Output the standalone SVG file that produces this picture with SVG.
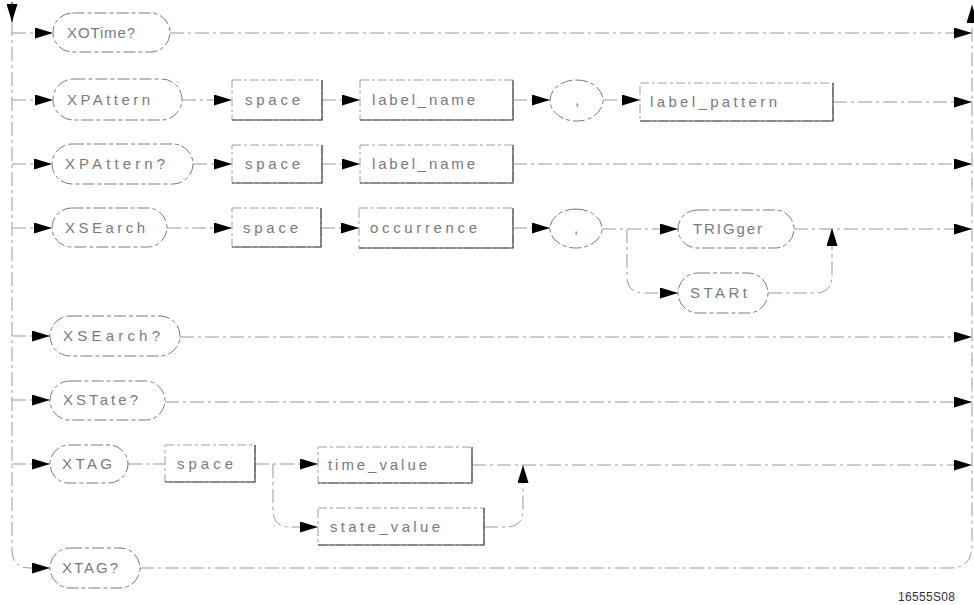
<svg xmlns="http://www.w3.org/2000/svg" width="974" height="605" viewBox="0 0 974 605">
<style>
.t{font-family:"Liberation Sans","DejaVu Sans",sans-serif;font-size:15px;fill:#7a7a7a}
.term{fill:#fff;stroke:#7a7a7a;stroke-width:1;stroke-dasharray:12 3 4 3}
.box{fill:#fff;stroke:#a0a0a0;stroke-width:1;stroke-dasharray:9 3 3 3}
.edge{fill:none;stroke:#444;stroke-width:1.2}
.c{fill:none;stroke:#999;stroke-width:1;stroke-dasharray:14 4 3 4}
.id{font-family:"Liberation Sans","DejaVu Sans",sans-serif;font-size:12px;fill:#333}
</style>
<defs>
<marker id="ah" viewBox="0 0 18 11" refX="18" refY="5.5" markerWidth="18" markerHeight="11" orient="auto" markerUnits="userSpaceOnUse">
<path d="M0,0 L18,5.5 L0,11 Z" fill="#000"/>
</marker>
</defs>
<rect width="974" height="605" fill="#fff"/>

<g id="connectors">
<path class="c" d="M12,22 V550 Q12,568 30,568 H50" marker-end="url(#ah)"/>
<path d="M12,2 V22" stroke="#000" stroke-width="1" marker-end="url(#ah)"/>
<path class="c" d="M140,568 H950 Q972,568 972,546 V5" marker-end="url(#ah)"/>
<path class="c" d="M12,33 H53" marker-end="url(#ah)"/>
<path class="c" d="M170,33 H972" marker-end="url(#ah)"/>
<path class="c" d="M12,100 H53" marker-end="url(#ah)"/>
<path class="c" d="M182,100 H232" marker-end="url(#ah)"/>
<path class="c" d="M322,100 H360" marker-end="url(#ah)"/>
<path class="c" d="M513,100 H550" marker-end="url(#ah)"/>
<path class="c" d="M603,100 H640" marker-end="url(#ah)"/>
<path class="c" d="M833,102 H972" marker-end="url(#ah)"/>
<path class="c" d="M12,164 H52" marker-end="url(#ah)"/>
<path class="c" d="M193,164 H232" marker-end="url(#ah)"/>
<path class="c" d="M322,164 H360" marker-end="url(#ah)"/>
<path class="c" d="M513,164 H972" marker-end="url(#ah)"/>
<path class="c" d="M12,228 H52" marker-end="url(#ah)"/>
<path class="c" d="M167,228 H232" marker-end="url(#ah)"/>
<path class="c" d="M321,228 H359" marker-end="url(#ah)"/>
<path class="c" d="M513,228 H550" marker-end="url(#ah)"/>
<path class="c" d="M602,229 H678" marker-end="url(#ah)"/>
<path class="c" d="M627,229 V276 Q627,293 644,293 H678" marker-end="url(#ah)"/>
<path class="c" d="M794,229 H972" marker-end="url(#ah)"/>
<path class="c" d="M768,293 H815 Q832,293 832,276 V228" marker-end="url(#ah)"/>
<path class="c" d="M12,336 H50" marker-end="url(#ah)"/>
<path class="c" d="M180,337 H972" marker-end="url(#ah)"/>
<path class="c" d="M12,400 H50" marker-end="url(#ah)"/>
<path class="c" d="M165,402 H972" marker-end="url(#ah)"/>
<path class="c" d="M12,464 H50" marker-end="url(#ah)"/>
<path class="c" d="M128,464 H165"/>
<path class="c" d="M255,464 H318" marker-end="url(#ah)"/>
<path class="c" d="M273,464 V510 Q273,527 290,527 H318" marker-end="url(#ah)"/>
<path class="c" d="M472,465 H972" marker-end="url(#ah)"/>
<path class="c" d="M484,527 H506 Q523,527 523,510 V465" marker-end="url(#ah)"/>
</g>

<g id="n-xotime"><rect class="term" x="53" y="13" width="117" height="39" rx="19.5"/><text class="t" x="67" y="38" textLength="68" lengthAdjust="spacing">XOTime?</text></g>
<g id="n-xpattern"><rect class="term" x="53" y="79" width="129" height="41" rx="20.5"/><text class="t" x="67" y="105" textLength="83" lengthAdjust="spacing">XPAttern</text></g>
<g id="n-xpattern-q"><rect class="term" x="52" y="144" width="141" height="40" rx="20"/><text class="t" x="65" y="169" textLength="100" lengthAdjust="spacing">XPAttern?</text></g>
<g id="n-xsearch"><rect class="term" x="52" y="208" width="115" height="39" rx="19.5"/><text class="t" x="65" y="233" textLength="80" lengthAdjust="spacing">XSEarch</text></g>
<g id="n-xsearch-q"><rect class="term" x="50" y="316" width="130" height="40" rx="20"/><text class="t" x="63" y="341" textLength="97" lengthAdjust="spacing">XSEarch?</text></g>
<g id="n-xstate-q"><rect class="term" x="50" y="381" width="115" height="39" rx="19.5"/><text class="t" x="63" y="405" textLength="75" lengthAdjust="spacing">XSTate?</text></g>
<g id="n-xtag"><rect class="term" x="50" y="445" width="78" height="38" rx="19"/><text class="t" x="62" y="469" textLength="50" lengthAdjust="spacing">XTAG</text></g>
<g id="n-xtag-q"><rect class="term" x="50" y="548" width="90" height="40" rx="20"/><text class="t" x="62" y="573" textLength="56" lengthAdjust="spacing">XTAG?</text></g>

<g id="n-space1"><rect class="box" x="232" y="80" width="90" height="40"/><path class="edge" d="M322,80 V120 H232"/><text class="t" x="245" y="105" textLength="55" lengthAdjust="spacing">space</text></g>
<g id="n-labelname1"><rect class="box" x="360" y="80" width="153" height="40"/><path class="edge" d="M513,80 V120 H360"/><text class="t" x="372" y="105" textLength="103" lengthAdjust="spacing">label_name</text></g>
<g id="n-comma1"><rect class="term" x="550" y="80" width="53" height="41" rx="26" ry="20.5"/><text class="t" x="575" y="105">,</text></g>
<g id="n-labelpattern"><rect class="box" x="640" y="83" width="193" height="38"/><path class="edge" d="M833,83 V121 H640"/><text class="t" x="650" y="107" textLength="127" lengthAdjust="spacing">label_pattern</text></g>

<g id="n-space2"><rect class="box" x="232" y="145" width="90" height="38"/><path class="edge" d="M322,145 V183 H232"/><text class="t" x="245" y="169" textLength="55" lengthAdjust="spacing">space</text></g>
<g id="n-labelname2"><rect class="box" x="360" y="145" width="153" height="38"/><path class="edge" d="M513,145 V183 H360"/><text class="t" x="372" y="169" textLength="103" lengthAdjust="spacing">label_name</text></g>

<g id="n-space3"><rect class="box" x="232" y="208" width="89" height="39"/><path class="edge" d="M321,208 V247 H232"/><text class="t" x="243" y="233" textLength="55" lengthAdjust="spacing">space</text></g>
<g id="n-occurrence"><rect class="box" x="359" y="208" width="154" height="40"/><path class="edge" d="M513,208 V248 H359"/><text class="t" x="370" y="233" textLength="107" lengthAdjust="spacing">occurrence</text></g>
<g id="n-comma2"><rect class="term" x="550" y="209" width="52" height="39" rx="26" ry="19.5"/><text class="t" x="574" y="233">,</text></g>
<g id="n-trigger"><rect class="term" x="678" y="210" width="116" height="38" rx="19"/><text class="t" x="693" y="234" textLength="69" lengthAdjust="spacing">TRIGger</text></g>
<g id="n-start"><rect class="term" x="678" y="273" width="90" height="40" rx="20"/><text class="t" x="690" y="298" textLength="57" lengthAdjust="spacing">STARt</text></g>

<g id="n-space4"><rect class="box" x="165" y="445" width="90" height="37"/><path class="edge" d="M255,445 V482 H165"/><text class="t" x="177" y="469" textLength="56" lengthAdjust="spacing">space</text></g>
<g id="n-timevalue"><rect class="box" x="318" y="447" width="154" height="36"/><path class="edge" d="M472,447 V483 H318"/><text class="t" x="328" y="470" textLength="99" lengthAdjust="spacing">time_value</text></g>
<g id="n-statevalue"><rect class="box" x="318" y="508" width="166" height="37"/><path class="edge" d="M484,508 V545 H318"/><text class="t" x="330" y="532" textLength="110" lengthAdjust="spacing">state_value</text></g>

<text class="id" x="898" y="601" textLength="57" lengthAdjust="spacing">16555S08</text>
</svg>
